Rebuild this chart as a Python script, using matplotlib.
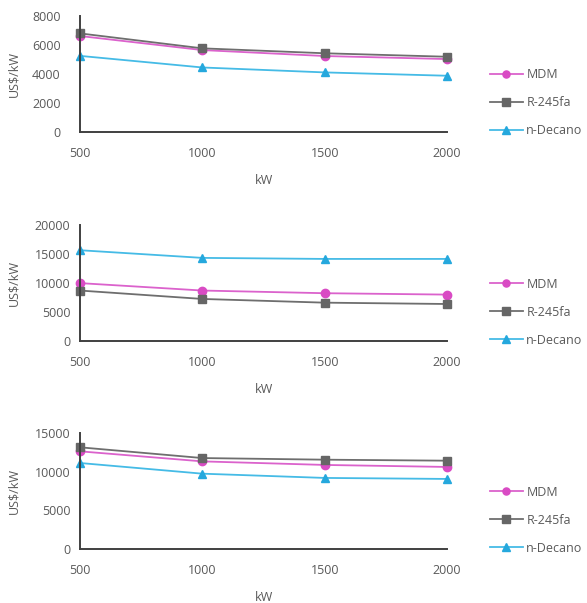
import matplotlib.pyplot as plt

plt.rcParams["font.family"] = ["Open Sans", "DejaVu Sans"]

power_kw = [500, 1000, 1500, 2000]
series_names = ["MDM", "R-245fa", "n-Decano"]

# panel 1
top_mdm = [6620, 5650, 5240, 5030]
top_r245fa = [6800, 5770, 5430, 5190]
top_decano = [5250, 4450, 4110, 3880]
top_yticks = [0, 2000, 4000, 6000, 8000]

# panel 2
mid_mdm = [9980, 8700, 8240, 8000]
mid_r245fa = [8700, 7250, 6610, 6380]
mid_decano = [15650, 14330, 14150, 14150]
mid_yticks = [0, 5000, 10000, 15000, 20000]

# panel 3
bot_mdm = [12630, 11330, 10870, 10610]
bot_r245fa = [13150, 11760, 11550, 11420]
bot_decano = [11120, 9740, 9190, 9060]
bot_yticks = [0, 5000, 10000, 15000]

styles = {
    "MDM": dict(color="#DB62CC", marker="o", mfc="#D94BC4", mec="#D94BC4", ms=6),
    "R-245fa": dict(color="#6E6E6E", marker="s", mfc="#666666", mec="#666666", ms=6),
    "n-Decano": dict(color="#45BBE6", marker="^", mfc="#25A8DD", mec="#25A8DD", ms=6),
}

W, H = 587, 603
fig = plt.figure(figsize=(W / 100, H / 100), dpi=100)

panels = [
    ((top_mdm, top_r245fa, top_decano), top_yticks, 16, 132, 14),
    ((mid_mdm, mid_r245fa, mid_decano), mid_yticks, 225, 341, 7),
    ((bot_mdm, bot_r245fa, bot_decano), bot_yticks, 433, 549, 7),
]

text_color = "#595959"
for values, yticks, y_top, y_bot, ypad in panels:
    ax = fig.add_axes([80 / W, 1 - y_bot / H, 367 / W, (y_bot - y_top) / H])
    for name, vals in zip(series_names, values):
        ax.plot(power_kw, vals, label=name, lw=1.3, **styles[name])
    ax.set_xlim(power_kw[0], power_kw[-1])
    ax.set_ylim(yticks[0], yticks[-1])
    ax.set_xticks(power_kw)
    ax.set_yticks(yticks)
    for side in ("top", "right"):
        ax.spines[side].set_visible(False)
    for side in ("left", "bottom"):
        ax.spines[side].set_color("#404040")
        ax.spines[side].set_linewidth(1.4)
    ax.tick_params(axis="x", length=0, pad=11, labelsize=9, labelcolor=text_color)
    ax.tick_params(axis="y", length=0, pad=ypad, labelsize=9, labelcolor=text_color)
    ax.set_xlabel("kW", fontsize=9, color=text_color, labelpad=10)
    ax.set_ylabel("US$/kW", fontsize=9, color=text_color)
    ax.yaxis.set_label_coords(-60 / 367, 0.5)
    for spine in ax.spines.values():
        spine.set_clip_on(False)
    leg = ax.legend(
        loc="center left",
        bbox_to_anchor=(490 / W, 1 - (y_bot - 29) / H),
        bbox_transform=fig.transFigure,
        frameon=False,
        fontsize=9,
        handlelength=2.6,
        handletextpad=0.3,
        labelspacing=1.2,
        borderpad=0,
        borderaxespad=0,
        markerscale=0.85,
    )
    for t in leg.get_texts():
        t.set_color(text_color)
    for line in ax.get_lines():
        line.set_clip_on(False)

fig.savefig("out.png", dpi=100)
